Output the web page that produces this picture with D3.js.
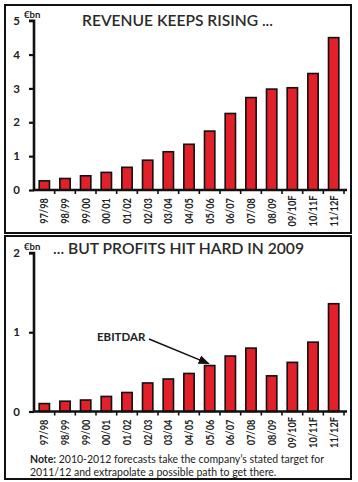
<!DOCTYPE html>
<html><head><meta charset="utf-8">
<script src="https://cdn.jsdelivr.net/npm/d3@7"></script>
<style>body{margin:0;background:#fff}svg{display:block}</style>
</head><body>
<script>
const categories = ["97/98","98/99","99/00","00/01","01/02","02/03","03/04","04/05","05/06","06/07","07/08","08/09","09/10F","10/11F","11/12F"];
const revenue = [0.27,0.34,0.42,0.52,0.67,0.88,1.13,1.35,1.74,2.26,2.73,2.98,3.02,3.44,4.50];
const ebitdar = [0.10,0.13,0.145,0.19,0.24,0.36,0.41,0.48,0.58,0.70,0.80,0.45,0.62,0.875,1.36];
const revTicks = [0,1,2,3,4,5];
const ebTicks = [0,1,2];

const W=358,H=482;
const svg=d3.select("body").append("svg").attr("width",W).attr("height",H);
const font="Lato, 'Open Sans', sans-serif";
const red="#e2202a";

svg.append("defs").append("marker").attr("id","ah").attr("viewBox","0 0 10 10")
 .attr("refX",9).attr("refY",5).attr("markerWidth",8).attr("markerHeight",8).attr("orient","auto")
 .append("path").attr("d","M0,1 L10,5 L0,9 Z").attr("fill","#111");

// panel borders
svg.append("rect").attr("x",5).attr("y",5).attr("width",346).attr("height",228).attr("fill","none").attr("stroke","#111").attr("stroke-width",2);
svg.append("rect").attr("x",5).attr("y",236).attr("width",346).attr("height",243).attr("fill","none").attr("stroke","#111").attr("stroke-width",2);

function panel(values, ticks, yTop, yZero, maxV, title, titleX, titleY, titleLen){
  const x=d3.scaleBand().domain(categories).range([34,344]).paddingInner(0.5).paddingOuter(0.25);
  const y=d3.scaleLinear().domain([0,maxV]).range([yZero,yTop]);
  const g=svg.append("g");
  g.selectAll("rect.bar").data(values).join("rect").attr("class","bar")
    .attr("x",(d,i)=>x(categories[i])).attr("width",x.bandwidth())
    .attr("y",d=>y(d)).attr("height",d=>yZero-y(d))
    .attr("fill",red).attr("stroke","#111").attr("stroke-width",1.6);
  // y axis
  const ya=g.append("g").attr("transform","translate(34,0)").call(d3.axisLeft(y).tickValues(ticks).tickSize(5).tickFormat(d3.format("d")));
  ya.select(".domain").attr("d",`M-5,${yTop}H0V${yZero}`).attr("stroke","#111").attr("stroke-width",2.6);
  ya.selectAll(".tick line").attr("stroke","#111").attr("stroke-width",2.2);
  ya.selectAll(".tick text").attr("x",-14).attr("font-family",font).attr("font-weight","bold").attr("font-size",11.5).attr("fill","#222");
  // x axis
  g.append("line").attr("x1",33).attr("x2",347).attr("y1",yZero).attr("y2",yZero).attr("stroke","#111").attr("stroke-width",2.4);
  const bounds=categories.map(c=>x(c)-x.step()*x.paddingInner()/2).concat([x(categories[categories.length-1])+x.bandwidth()+x.step()*x.paddingInner()/2]);
  g.selectAll("line.xt").data(bounds.slice(1)).join("line").attr("class","xt")
    .attr("x1",d=>d).attr("x2",d=>d).attr("y1",yZero).attr("y2",yZero+4).attr("stroke","#111").attr("stroke-width",1.6);
  g.selectAll("text.xl").data(categories).join("text").attr("class","xl")
    .attr("transform",c=>`translate(${x(c)+x.bandwidth()/2+4},${yZero+21}) rotate(-90) scale(0.8,1)`)
    .attr("text-anchor","middle").attr("font-family",font).attr("font-weight","bold").attr("font-size",11.5).attr("fill","#222")
    .text(c=>c);
  g.append("text").attr("x",24).attr("y",yTop-3).attr("font-family",font).attr("font-weight","bold").attr("font-size",9.5).attr("fill","#222").text("€bn");
  g.append("text").attr("x",titleX).attr("y",titleY).attr("font-family",font).attr("font-weight","600").attr("font-size",15.5).attr("fill","#2a2a2a")
    .attr("textLength",titleLen).attr("lengthAdjust","spacingAndGlyphs").text(title);
  return {x,y};
}

panel(revenue, revTicks, 20.7, 190, 5, "REVENUE KEEPS RISING ...", 82, 26, 191);
const p2=panel(ebitdar, ebTicks, 253, 411.5, 2, "... BUT PROFITS HIT HARD IN 2009", 53, 254, 251);

// annotation
svg.append("text").attr("x",97).attr("y",341).attr("font-family",font).attr("font-weight","bold").attr("font-size",11.5).attr("fill","#222").text("EBITDAR");
const ax=p2.x("05/06")+p2.x.bandwidth()/2-1;
svg.append("line").attr("x1",149).attr("y1",339).attr("x2",ax).attr("y2",p2.y(ebitdar[8])-2)
  .attr("stroke","#111").attr("stroke-width",1.4).attr("marker-end","url(#ah)");

// note
const note=svg.append("text").attr("font-family",font).attr("font-size",10.5).attr("fill","#222");
const l1=note.append("tspan").attr("x",30).attr("y",463);
l1.append("tspan").attr("font-weight","bold").text("Note:");
l1.append("tspan").text(" 2010-2012 forecasts take the company\u2019s stated target for");
note.append("tspan").attr("x",30).attr("y",476).text("2011/12 and extrapolate a possible path to get there.");
</script>
</body></html>
